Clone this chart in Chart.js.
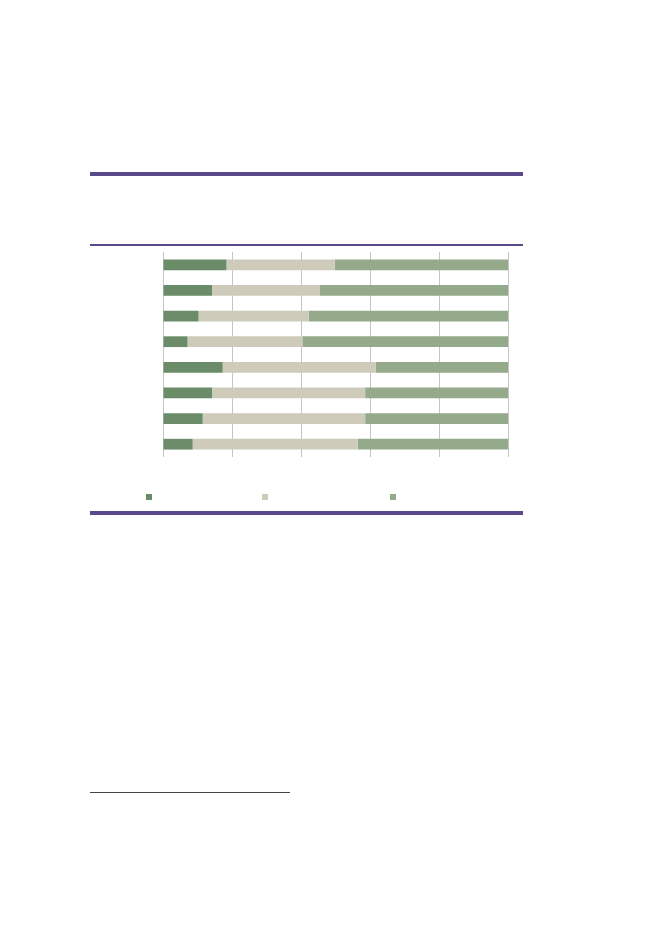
<!DOCTYPE html>
<html><head><meta charset="utf-8">
<script src="https://cdn.jsdelivr.net/npm/chart.js@4.4.0/dist/chart.umd.min.js"></script>
<style>
html,body{margin:0;padding:0;background:#fff;width:661px;height:933px;overflow:hidden;}
#wrap{position:absolute;left:0;top:0;width:661px;height:933px;}
.rule{position:absolute;background:#5b4a8b;}
.leg{position:absolute;width:6px;height:6px;}
</style></head>
<body>
<div id="wrap"><canvas id="c" width="661" height="933" style="width:661px;height:933px;"></canvas></div>
<div class="rule" style="left:90px;top:172px;width:433px;height:4px;"></div>
<div class="rule" style="left:90px;top:244px;width:433px;height:1.5px;"></div>
<div class="rule" style="left:90px;top:511px;width:433px;height:4px;"></div>
<div style="position:absolute;left:90px;top:792px;width:200px;height:1.2px;background:#454545;"></div>
<div id="legend"></div>
<script>
const categories = ["1","2","3","4","5","6","7","8"];
const seriesA = [18.4,14.2,10.3,7.1,17.3,14.2,11.5,8.6];
const seriesB = [31.4,31.3,31.9,33.3,44.3,44.4,47.1,47.8];
const seriesC = [50.2,54.5,57.8,59.6,38.4,41.4,41.4,43.6];
const xTicks = [0,20,40,60,80,100];

const colors = ["#6a8c69","#cecbbb","#95a98b"];
const chart = new Chart(document.getElementById('c'), {
  type:'bar',
  data:{labels:categories, datasets:[
    {label:"",data:seriesA,backgroundColor:colors[0]},
    {label:"",data:seriesB,backgroundColor:colors[1]},
    {label:"",data:seriesC,backgroundColor:colors[2]}
  ]},
  options:{
    indexAxis:'y', responsive:false, animation:false,
    devicePixelRatio:1,
    layout:{padding:{left:163,right:153,top:252,bottom:476}},
    datasets:{bar:{categoryPercentage:1,barPercentage:0.42,borderWidth:0}},
    plugins:{legend:{display:false},tooltip:{enabled:false}},
    scales:{
      x:{stacked:true,min:0,max:100,
        afterBuildTicks:(s)=>{s.ticks=xTicks.map(v=>({value:v}));},
        ticks:{display:false},
        grid:{color:'#c4c4c4',lineWidth:1,drawTicks:false},
        border:{display:false}},
      y:{stacked:true,ticks:{display:false},grid:{display:false,drawTicks:false},border:{display:false}}
    }
  }
});
// HTML legend built from dataset colours
const legendX = [146,262,390];
const lg = document.getElementById('legend');
chart.data.datasets.forEach((ds,i)=>{
  const d=document.createElement('div');
  d.className='leg';
  d.style.left=legendX[i]+'px';
  d.style.top='494px';
  d.style.background=ds.backgroundColor;
  lg.appendChild(d);
});
</script>
</body></html>
